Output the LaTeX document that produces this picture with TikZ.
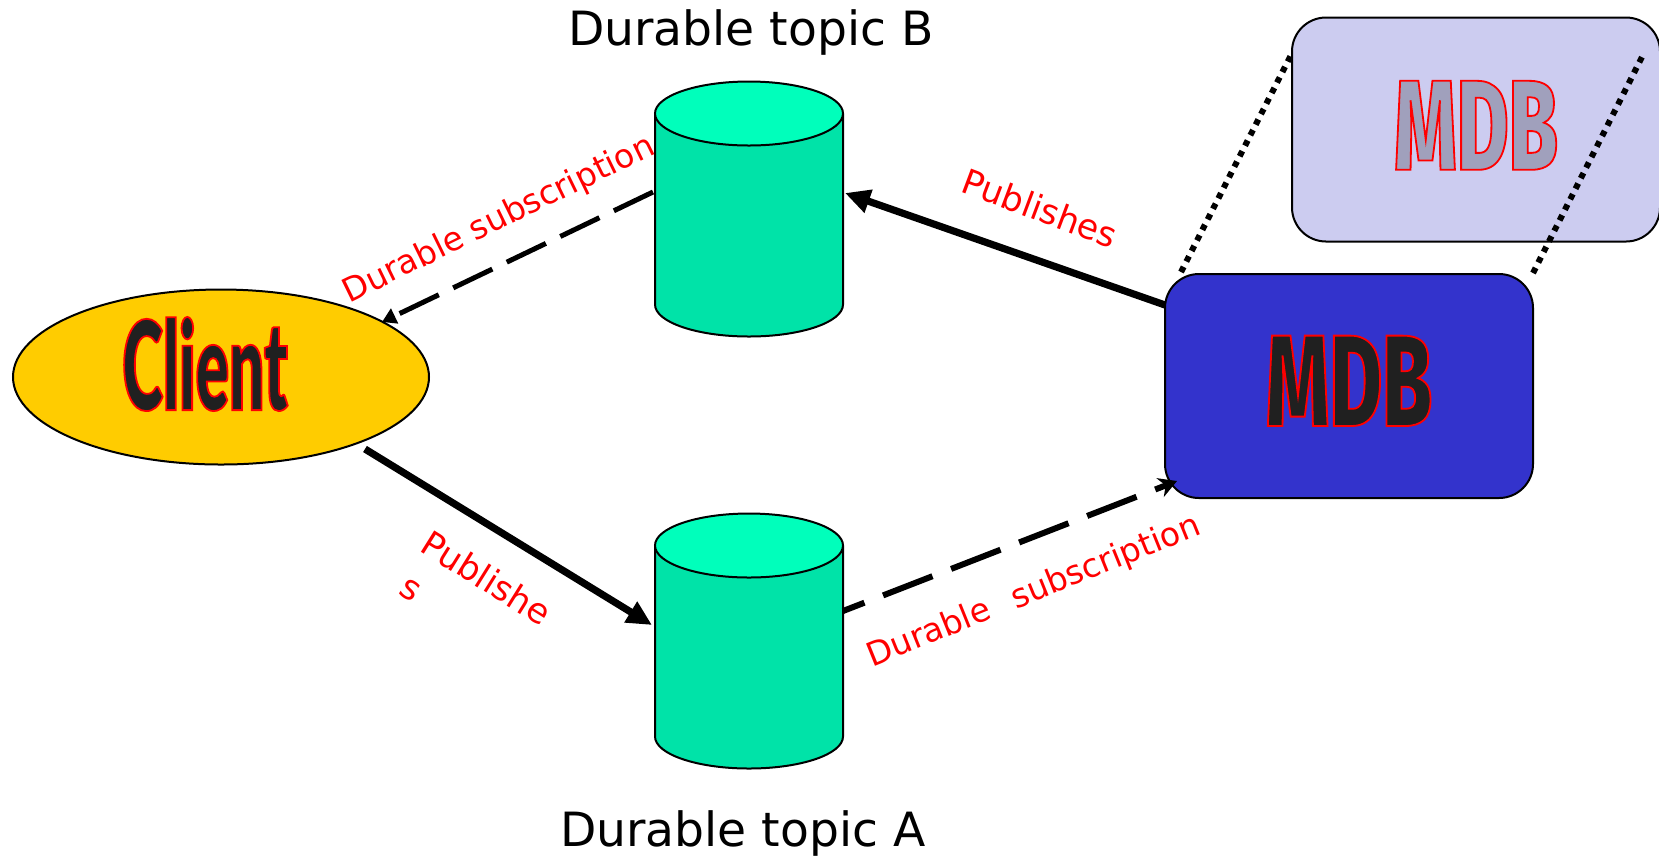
\documentclass[tikz,border=0pt]{standalone}
\usepackage{fontspec}
\usepackage{xcolor}
\setmainfont{DejaVu Sans}
\newfontfamily\clientfont[FakeStretch=0.50]{Lato Black}
\newfontfamily\mdbfont[FakeStretch=0.62]{Fira Sans ExtraBold}
\usetikzlibrary{arrows.meta,shapes.geometric}
\definecolor{goldfill}{HTML}{FFCC00}
\definecolor{cylbody}{HTML}{00E3A8}
\definecolor{cyltop}{HTML}{00FFBB}
\definecolor{mdbblue}{HTML}{3333CC}
\definecolor{mdbpale}{HTML}{CCCCF0}
\definecolor{artdark}{HTML}{202020}
\definecolor{artpale}{HTML}{A0A0BC}
\newcommand\artword[2]{{\color{#1}\special{pdf:code 1 0 0 RG 2 Tr 0.9 w}#2\special{pdf:code 0 Tr}}}
\newcommand\topicdrum[1]{%
  \draw[drumline,fill=cylbody] ([shift={(-94,-95.5)}]#1.center) -- ++(0,191)
    arc[start angle=180,end angle=360,x radius=47pt,y radius=16pt] -- ++(0,-191);
  \draw[drumline,fill=cyltop] ([shift={(0,-95.5)}]#1.center) ellipse[x radius=47pt,y radius=16pt];
}
\def\px{0.5pt}
\tikzset{
  x=0.5pt,y=-0.5pt,
  drumline/.style={draw=black,line width=1pt},
  topicarea/.style={rectangle,minimum width=188*\px,minimum height=255*\px,inner sep=0pt,outer sep=0pt},
  mdbbox/.style={rectangle,rounded corners=17pt,draw=black,line width=1pt,
    minimum width=368*\px,minimum height=224*\px,inner sep=0pt,outer sep=0pt},
  title/.style={font=\fontsize{23.6pt}{27pt}\selectfont,text=black,inner sep=0pt},
  redlabel/.style={font=\fontsize{16.5pt}{27.5pt}\selectfont,text=red,inner sep=0pt},
  publabel/.style={font=\fontsize{17.3pt}{24pt}\selectfont,text=red,inner sep=0pt},
  solidarrow/.style={line width=3.6pt,-{Triangle[length=12.5pt,width=11.5pt]}},
  dashedthin/.style={line width=2.5pt,dash pattern=on 21.7pt off 8pt,-{Triangle[length=7pt,width=8pt]}},
  dashedthick/.style={line width=3pt,dash pattern=on 26.5pt off 10pt,dash phase=15pt,-{Stealth[length=9pt,width=10pt]}},
  dottedlink/.style={line width=3pt,dash pattern=on 2.9pt off 3pt},
}
\begin{document}
\begin{tikzpicture}
\useasboundingbox (0,0) rectangle (1659,859);
\node[mdbbox,fill=mdbpale,text depth=4.2pt] (mdbback) at (1476,129.5)
  {\fontsize{64pt}{64pt}\mdbfont\artword{artpale}{MDB}};
\node[topicarea] (topicB) at (749,209) {};
\node[topicarea] (topicA) at (749,641) {};
\topicdrum{topicB}
\topicdrum{topicA}
\node[ellipse,draw=black,line width=1pt,fill=goldfill,minimum width=416*\px,minimum height=175*\px,inner sep=0pt,outer sep=0pt] (client) at (221,377) {};
\node[inner sep=0pt] (clientword) at (205,364)
  {\fontsize{62pt}{62pt}\clientfont\artword{artdark}{Client}};
\draw[dottedlink] (1181,272) coordinate (linkstartL) -- ([shift={(-185,-74.5)}]mdbback.center);
\draw[dottedlink] (1533,273) coordinate (linkstartR) -- ([shift={(167,-74.5)}]mdbback.center);
\node[mdbbox,fill=mdbblue,text depth=5.2pt] (mdb) at (1349,386)
  {\fontsize{65pt}{65pt}\mdbfont\artword{artdark}{MDB}};
\draw[solidarrow] ([shift={(144,72)}]client.center) -- ([shift={(-97,-16)}]topicA.center);
\draw[dashedthick] ([shift={(94,-30)}]topicA.center) -- ([shift={(-172,95)}]mdb.center);
\draw[solidarrow] ([shift={(-184,-81)}]mdb.center) -- ([shift={(96,-16)}]topicB.center);
\draw[dashedthin] ([shift={(-96,-17)}]topicB.center) -- ([shift={(161,-55)}]client.center);
\node[title] (titleB) at (751,32) {Durable topic B};
\node[title] (titleA) at (743,833) {Durable topic A};
\node[redlabel,rotate=26] (subB) at (499,220) {Durable subscription};
\node[redlabel,rotate=22] (subA) at (1034,592) {Durable\hspace{0.75em}subscription};
\node[publabel,rotate=-20.5] (pubB) at (1040,208) {Publishes};
\node[publabel,rotate=-32,align=left] (pubA) at (474,598) {Publishe\\\hspace*{2.5pt}s};
\end{tikzpicture}
\end{document}
